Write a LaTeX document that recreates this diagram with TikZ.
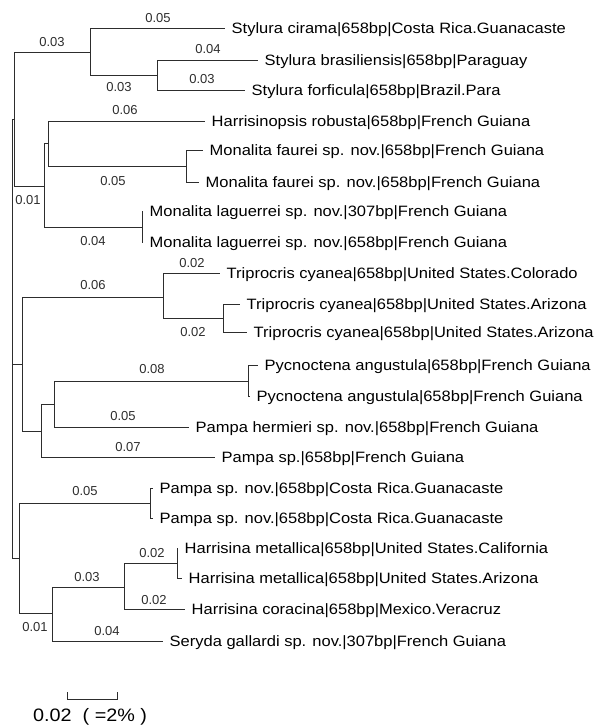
\documentclass[tikz,border=0pt]{standalone}
\usepackage{fontspec}
\newfontfamily\taxonfont{Liberation Sans}
\newfontfamily\lenfont{Liberation Sans}
\newcommand\wide[1]{\scalebox{1.1}[1]{#1}}
\definecolor{treegray}{RGB}{45,45,45}

\begin{document}
\begin{tikzpicture}[x=1pt, y=-1pt,
  branch/.style={draw=treegray, line width=0.9pt},
  taxon/.style={anchor=west, inner xsep=6.5pt, inner ysep=0pt, text height=10.8pt, text depth=0pt,
    font=\taxonfont\fontsize{15}{18}\selectfont},
  blen/.style={inner sep=0pt, text=treegray, font=\lenfont\fontsize{13}{15}\selectfont}]

  \useasboundingbox (0,0) rectangle (595,727);

  % Internal nodes
  \coordinate (root) at (12,338);
  \coordinate (nA) at (14,119);
  \coordinate (nS) at (90,52);
  \coordinate (nSb) at (157,75);
  \coordinate (nM) at (44,186);
  \coordinate (nMa) at (48,143);
  \coordinate (nMf) at (186,166);
  \coordinate (nMl) at (142,227);
  \coordinate (nT) at (22,364);
  \coordinate (nTc) at (163,297);
  \coordinate (nTa) at (223,318);
  \coordinate (nP) at (41,431);
  \coordinate (nPa) at (54,404);
  \coordinate (nPy) at (248,381);
  \coordinate (nH) at (19,558);
  \coordinate (nPn) at (150,503);
  \coordinate (nHs) at (52,613);
  \coordinate (nHm) at (124,587);
  \coordinate (nHme) at (177,563);

  % Taxa
  \node[taxon] (cirama) at (225,28) {\wide{Stylura cirama|658bp|Costa Rica.Guanacaste}};
  \node[taxon] (brasil) at (258,60) {\wide{Stylura brasiliensis|658bp|Paraguay}};
  \node[taxon] (forfic) at (245,90) {\wide{Stylura forficula|658bp|Brazil.Para}};
  \node[taxon] (robusta) at (205,121) {\wide{Harrisinopsis robusta|658bp|French Guiana}};
  \node[taxon] (faureiA) at (203,150) {\wide{Monalita faurei sp. nov.|658bp|French Guiana}};
  \node[taxon] (faureiB) at (199,182) {\wide{Monalita faurei sp. nov.|658bp|French Guiana}};
  \node[taxon] (laguerA) at (143,211) {\wide{Monalita laguerrei sp. nov.|307bp|French Guiana}};
  \node[taxon] (laguerB) at (143,242) {\wide{Monalita laguerrei sp. nov.|658bp|French Guiana}};
  \node[taxon] (cyaneaA) at (220,273) {\wide{Triprocris cyanea|658bp|United States.Colorado}};
  \node[taxon] (cyaneaB) at (240,304) {\wide{Triprocris cyanea|658bp|United States.Arizona}};
  \node[taxon] (cyaneaC) at (247,332) {\wide{Triprocris cyanea|658bp|United States.Arizona}};
  \node[taxon] (angustA) at (258,365) {\wide{Pycnoctena angustula|658bp|French Guiana}};
  \node[taxon] (angustB) at (250,396) {\wide{Pycnoctena angustula|658bp|French Guiana}};
  \node[taxon] (hermieri) at (189,427) {\wide{Pampa hermieri sp. nov.|658bp|French Guiana}};
  \node[taxon] (pampasp) at (215,457) {\wide{Pampa sp.|658bp|French Guiana}};
  \node[taxon] (pampanA) at (153,488) {\wide{Pampa sp. nov.|658bp|Costa Rica.Guanacaste}};
  \node[taxon] (pampanB) at (153,518) {\wide{Pampa sp. nov.|658bp|Costa Rica.Guanacaste}};
  \node[taxon] (metalA) at (178,548) {\wide{Harrisina metallica|658bp|United States.California}};
  \node[taxon] (metalB) at (182,578) {\wide{Harrisina metallica|658bp|United States.Arizona}};
  \node[taxon] (coracina) at (185,609) {\wide{Harrisina coracina|658bp|Mexico.Veracruz}};
  \node[taxon] (seryda) at (163,641) {\wide{Seryda gallardi sp. nov.|307bp|French Guiana}};

  % Branches
  \draw[branch] (root) |- (nA);
  \draw[branch] (root) |- (nT);
  \draw[branch] (root) |- (nH);
  \draw[branch] (nA) |- (nS);
  \draw[branch] (nA) |- (nM);
  \draw[branch] (nS) |- (cirama.west);
  \draw[branch] (nS) |- (nSb);
  \draw[branch] (nSb) |- (brasil.west);
  \draw[branch] (nSb) |- (forfic.west);
  \draw[branch] (nM) |- (nMa);
  \draw[branch] (nM) |- (nMl);
  \draw[branch] (nMa) |- (robusta.west);
  \draw[branch] (nMa) |- (nMf);
  \draw[branch] (nMf) |- (faureiA.west);
  \draw[branch] (nMf) |- (faureiB.west);
  \draw[branch] (nMl) |- (laguerA.west);
  \draw[branch] (nMl) |- (laguerB.west);
  \draw[branch] (nT) |- (nTc);
  \draw[branch] (nT) |- (nP);
  \draw[branch] (nTc) |- (cyaneaA.west);
  \draw[branch] (nTc) |- (nTa);
  \draw[branch] (nTa) |- (cyaneaB.west);
  \draw[branch] (nTa) |- (cyaneaC.west);
  \draw[branch] (nP) |- (nPa);
  \draw[branch] (nP) |- (pampasp.west);
  \draw[branch] (nPa) |- (nPy);
  \draw[branch] (nPa) |- (hermieri.west);
  \draw[branch] (nPy) |- (angustA.west);
  \draw[branch] (nPy) |- (angustB.west);
  \draw[branch] (nH) |- (nPn);
  \draw[branch] (nH) |- (nHs);
  \draw[branch] (nPn) |- (pampanA.west);
  \draw[branch] (nPn) |- (pampanB.west);
  \draw[branch] (nHs) |- (nHm);
  \draw[branch] (nHs) |- (seryda.west);
  \draw[branch] (nHm) |- (nHme);
  \draw[branch] (nHm) |- (coracina.west);
  \draw[branch] (nHme) |- (metalA.west);
  \draw[branch] (nHme) |- (metalB.west);

  % Branch lengths
  \node[blen] (lcirama) at (158,18) {0.05};
  \node[blen] (lstyl) at (52,42) {0.03};
  \node[blen] (lbrasil) at (208,49) {0.04};
  \node[blen] (lforfic) at (202,79) {0.03};
  \node[blen] (lstylb) at (119,87) {0.03};
  \node[blen] (lrobusta) at (125,110) {0.06};
  \node[blen] (lfaurei) at (113,181) {0.05};
  \node[blen] (lmonal) at (28,200) {0.01};
  \node[blen] (llaguer) at (93,241) {0.04};
  \node[blen] (lcyaneaA) at (192,263) {0.02};
  \node[blen] (ltripro) at (93,285) {0.06};
  \node[blen] (lcyaneaB) at (193,332) {0.02};
  \node[blen] (langust) at (152,369) {0.08};
  \node[blen] (lhermieri) at (123,416) {0.05};
  \node[blen] (lpampasp) at (128,447) {0.07};
  \node[blen] (lpampan) at (85,491) {0.05};
  \node[blen] (lmetal) at (152,553) {0.02};
  \node[blen] (lharris) at (87,577) {0.03};
  \node[blen] (lcoracina) at (154,600) {0.02};
  \node[blen] (lhs) at (35,627) {0.01};
  \node[blen] (lseryda) at (107,631) {0.04};

  % Scale
  \coordinate (sbL) at (67,699);
  \coordinate (sbR) at (117,699);
  \draw[branch] ([yshift=7pt]sbL) -- (sbL) -- (sbR) -- ([yshift=7pt]sbR);
  \node[anchor=west, inner sep=0pt, font=\taxonfont\fontsize{18}{21}\selectfont] (scale) at (33,717) {\wide{0.02\ \ ( =2\% )}};

\end{tikzpicture}
\end{document}
